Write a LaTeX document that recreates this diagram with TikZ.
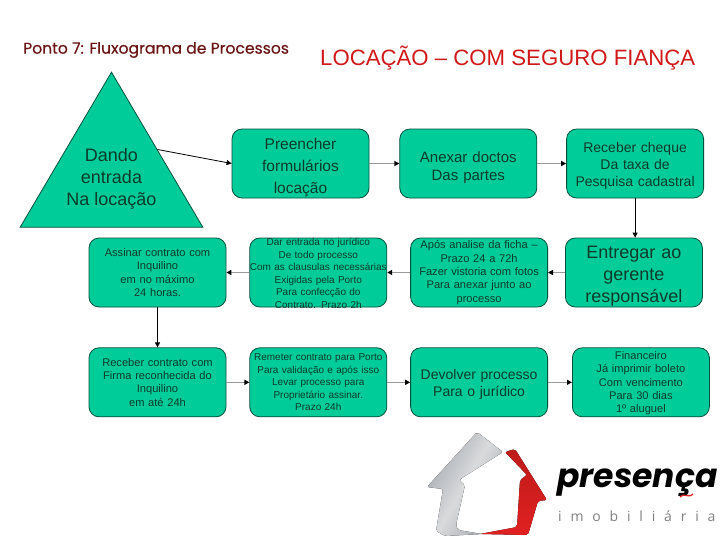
\documentclass[tikz,border=0pt]{standalone}
\usepackage{fontspec}
\setmainfont{Liberation Sans}
\newfontfamily\titlefont[FakeBold=0.4]{Poppins}
\newfontfamily\brandfont{Poppins}
\newfontfamily\subfont[LetterSpace=63]{Open Sans}
\usetikzlibrary{positioning,arrows.meta,shapes.geometric}
\definecolor{boxfill}{HTML}{00CC99}
\definecolor{boxline}{HTML}{00503C}
\definecolor{boxtext}{HTML}{0B3B2C}
\definecolor{titlered}{HTML}{D01818}
\definecolor{titledark}{HTML}{6B1414}
\definecolor{logored}{HTML}{E02020}
\definecolor{logogrey}{HTML}{A6AAB0}
\definecolor{logolight}{HTML}{D8DADC}
\begin{document}
\begin{tikzpicture}[
        x=1pt, y=-1pt,
        node distance=40pt and 23pt,
        lowered/.style={execute at end node={\endgraf\vspace*{-#1}}},
        procbox/.style={rectangle, rounded corners=10pt, draw=boxline, fill=boxfill, line width=0.8pt, minimum width=137pt, text width=137pt, minimum height=69pt, inner sep=0pt, align=center, text=boxtext, font=\fontsize{11.1}{13.4}\selectfont},
        tightbox/.style={procbox, font=\fontsize{10}{12.5}\selectfont},
        midbox/.style={procbox, lowered=4pt, font=\fontsize{14}{17}\selectfont},
        bigbox/.style={procbox, lowered=8pt, font=\fontsize{18}{22}\selectfont},
        arrow/.style={-{Triangle[length=5pt,width=5pt]}, black, line width=0.8pt},
        greyarrow/.style={-{Triangle[length=5pt,width=5pt,black]}, gray!80, line width=1.3pt}
      ]
        \useasboundingbox (0,0) rectangle (728,546);

        % Titles
        \node[anchor=west, inner sep=0pt, text=titledark, font=\titlefont\fontsize{15.6}{17}\selectfont] (ponto) at (23,50) {Ponto 7: Fluxograma de Processos};
        \node[anchor=west, inner sep=0pt, text=titlered, font=\fontsize{22.2}{24}\selectfont] (locacao) at (320,58) {LOCAÇÃO – COM SEGURO FIANÇA};

        % Triangle
        \node[isosceles triangle, isosceles triangle apex angle=61, shape border rotate=90, draw=boxline, fill=boxfill, line width=0.8pt, minimum height=155pt, inner sep=0pt] (dando) at (111.5,175) {};
        \node[align=center, inner sep=0pt, text=boxtext, font=\fontsize{18}{22}\selectfont] (dandotext) at (111.5,178.5) {Dando\hspace{12pt}\\entrada\\Na locação};

        % First row
        \node[bigbox, font=\fontsize{15.5}{21.7}\selectfont] (preencher) at (300.5,163.5) {Preencher\hspace{16pt}\\formulários\\locação};
        \node[midbox, lowered=4pt, font=\fontsize{15}{18}\selectfont, right=30pt of preencher] (anexar) {Anexar doctos\\Das partes};
        \node[midbox, right=29pt of anexar] (cheque) {Receber cheque\\Da taxa de\\Pesquisa cadastral};

        % Second row
        \node[procbox] (assinar) at (157.5,272.5) {Assinar contrato com\\Inquilino\\em no máximo\\24 horas.};
        \node[tightbox, lowered=2pt, right=of assinar] (juridico) {Dar entrada no jurídico\\De todo processo\\Com as clausulas necessárias\\Exigidas pela Porto\\Para confecção do\\Contrato. Prazo 2h};
        \node[procbox, right=of juridico] (analise) {Após analise da ficha --\\Prazo 24 a 72h\\Fazer vistoria com fotos\\Para anexar junto ao\\processo};
        \node[bigbox, right=17pt of analise] (gerente) {Entregar ao\\gerente\\responsável};

        % Third row
        \node[procbox, below=of assinar] (firma) {Receber contrato com\\Firma reconhecida do\\Inquilino\\em até 24h};
        \node[tightbox, right=of firma] (remeter) {Remeter contrato para Porto\\Para validação e após isso\\Levar processo para\\Proprietário assinar.\\Prazo 24h};
        \node[midbox, right=of remeter] (devolver) {Devolver processo\\Para o jurídico};
        \node[procbox, lowered=2pt, right=24pt of devolver] (financeiro) {Financeiro\\Já imprimir boleto\\Com vencimento\\Para 30 dias\\1º aluguel};

        % Arrows
        \draw[arrow] (dando.right side) -- (preencher.west);
        \draw[greyarrow] (preencher) -- (anexar);
        \draw[greyarrow] (anexar) -- (cheque);
        \draw[arrow] (cheque.south) -- (gerente.north -| cheque.south);
        \draw[greyarrow] (gerente) -- (analise);
        \draw[greyarrow] (analise) -- (juridico);
        \draw[greyarrow] (juridico) -- (assinar);
        \draw[arrow] (assinar) -- (firma);
        \draw[greyarrow] (firma) -- (remeter);
        \draw[greyarrow] (remeter) -- (devolver);
        \draw[greyarrow] (devolver) -- (financeiro);

        % Logo
        \fill[left color=logogrey, right color=logogrey, middle color=logolight, shading angle=60, rounded corners=2pt] (477,432) -- (503,452) -- (459,480) -- (465,485) -- (456,525) -- (458,530) -- (482,534) -- (445,536) -- (436,531) -- (443,489) -- (427,487) -- cycle;
        \fill[top color=logored!85!black, bottom color=logored, rounded corners=2pt] (505,452) -- (515,449) -- (547,500) -- (538,501) -- (528,535) -- (480,534) -- (517,527) -- (520,480) -- (527,475) -- cycle;
        \node[anchor=base west, inner sep=0pt, text=black, font=\brandfont\bfseries\itshape\fontsize{33}{35}\selectfont] (presenca) at (557,487) {presença};
        \draw[logored, line width=1.2pt] (680,497) .. controls (684,492) and (688,499) .. (693,494);
        \node[anchor=base west, inner sep=0pt, text=gray, font=\subfont\fontsize{14}{16}\selectfont] (imobiliaria) at (558,521) {imobiliária};
      \end{tikzpicture}
\end{document}
